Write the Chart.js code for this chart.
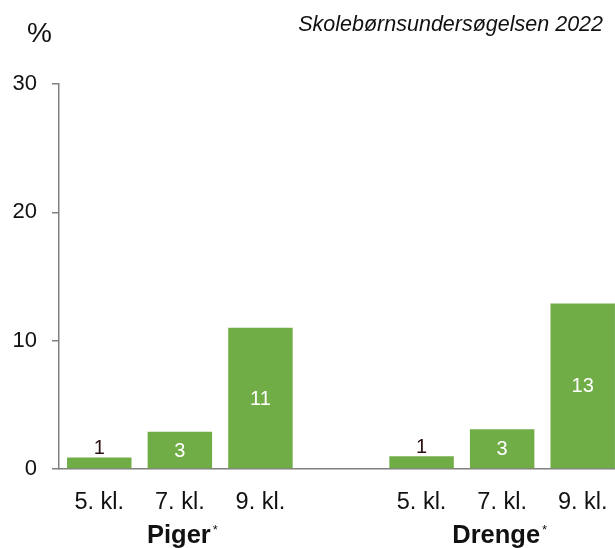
<!DOCTYPE html>
<html>
<head>
<meta charset="utf-8">
<script src="https://cdn.jsdelivr.net/npm/chart.js@4.4.0/dist/chart.umd.min.js"></script>
<style>
  html, body { margin: 0; padding: 0; background: #fff; overflow: hidden; }
  #wrap { position: relative; width: 615px; height: 548px; overflow: hidden; }
  #c { position: absolute; left: 0; top: 0; }
</style>
</head>
<body>
<div id="wrap"><canvas id="c" width="623" height="548"></canvas></div>
<script>
// ---- data ----
const groups = ['Piger', 'Drenge'];
const grades = ['5. kl.', '7. kl.', '9. kl.'];
const piger = [0.9, 2.9, 11];
const drenge = [1.0, 3.1, 12.9];
const yTicks = [0, 10, 20, 30];
const unitLabel = '%';
const sourceLabel = 'Skolebørnsundersøgelsen 2022';

// build category axis with an empty spacer between groups
const labels = [...grades, '', ...grades];
const values = [...piger, null, ...drenge];

const FONT = "'Liberation Sans', Arial, sans-serif";
const GREEN = '#70AD47';
const TEXT = '#111111';

const overlay = {
  id: 'overlay',
  afterDatasetsDraw(chart) {
    const ctx = chart.ctx;
    const meta = chart.getDatasetMeta(0);
    ctx.save();
    ctx.font = '20px ' + FONT;
    ctx.textAlign = 'center';
    meta.data.forEach((bar, i) => {
      const v = values[i];
      if (v === null || v === undefined) return;
      const txt = String(Math.round(v));
      const h = bar.base - bar.y;
      if (h < 20) {
        ctx.fillStyle = '#2a1010';
        ctx.textBaseline = 'alphabetic';
        ctx.fillText(txt, bar.x, bar.y - 3);
      } else {
        ctx.fillStyle = '#ffffff';
        ctx.textBaseline = 'middle';
        ctx.fillText(txt, bar.x, (bar.y + bar.base) / 2 + 1);
      }
    });
    ctx.restore();
  },
  afterDraw(chart) {
    const ctx = chart.ctx;
    const xs = chart.scales.x;
    ctx.save();
    // group labels
    groups.forEach((g, gi) => {
      const idx = gi * 4 + 1;
      const cx = xs.getPixelForValue(idx) - (gi === 0 ? 1 : 6);
      ctx.font = 'bold 25.5px ' + FONT;
      ctx.fillStyle = TEXT;
      ctx.textAlign = 'center';
      ctx.textBaseline = 'alphabetic';
      const w = ctx.measureText(g).width;
      ctx.fillText(g, cx, 543);
      ctx.font = '13px ' + FONT;
      ctx.textAlign = 'left';
      ctx.fillText('*', cx + w / 2 + 2, 534);
    });
    // unit label
    ctx.font = '28px ' + FONT;
    ctx.textAlign = 'left';
    ctx.textBaseline = 'alphabetic';
    ctx.fillStyle = TEXT;
    ctx.fillText(unitLabel, 27, 42);
    // source label
    ctx.font = 'italic 21.5px ' + FONT;
    ctx.textAlign = 'right';
    ctx.fillText(sourceLabel, 603, 31);
    ctx.restore();
  }
};

new Chart(document.getElementById('c'), {
  type: 'bar',
  data: {
    labels: labels,
    datasets: [{
      data: values,
      backgroundColor: GREEN,
      borderWidth: 0,
      categoryPercentage: 1.0,
      barPercentage: 0.8
    }]
  },
  options: {
    responsive: false,
    animation: false,
    layout: { padding: { top: 84, left: 0, right: 0, bottom: 0 } },
    plugins: { legend: { display: false }, tooltip: { enabled: false }, title: { display: false } },
    scales: {
      x: {
        grid: { display: false, drawTicks: false },
        border: { display: true, color: '#808080', width: 1.5 },
        ticks: { color: TEXT, font: { family: FONT, size: 23.5 }, padding: 19, maxRotation: 0, autoSkip: false },
        afterFit(scale) { scale.height = 79; scale.paddingLeft = 0; scale.paddingRight = 0; }
      },
      y: {
        min: 0, max: 30,
        afterBuildTicks(scale) { scale.ticks = yTicks.map(v => ({ value: v })); },
        grid: { display: true, drawOnChartArea: false, drawTicks: true, tickLength: 7, color: '#808080', lineWidth: 1.5 },
        border: { display: true, color: '#808080', width: 1.5 },
        ticks: { color: TEXT, font: { family: FONT, size: 22 }, padding: 15 },
        afterFit(scale) { scale.width = 59; scale.paddingTop = 0; scale.paddingBottom = 0; }
      }
    }
  },
  plugins: [overlay]
});
</script>
</body>
</html>
